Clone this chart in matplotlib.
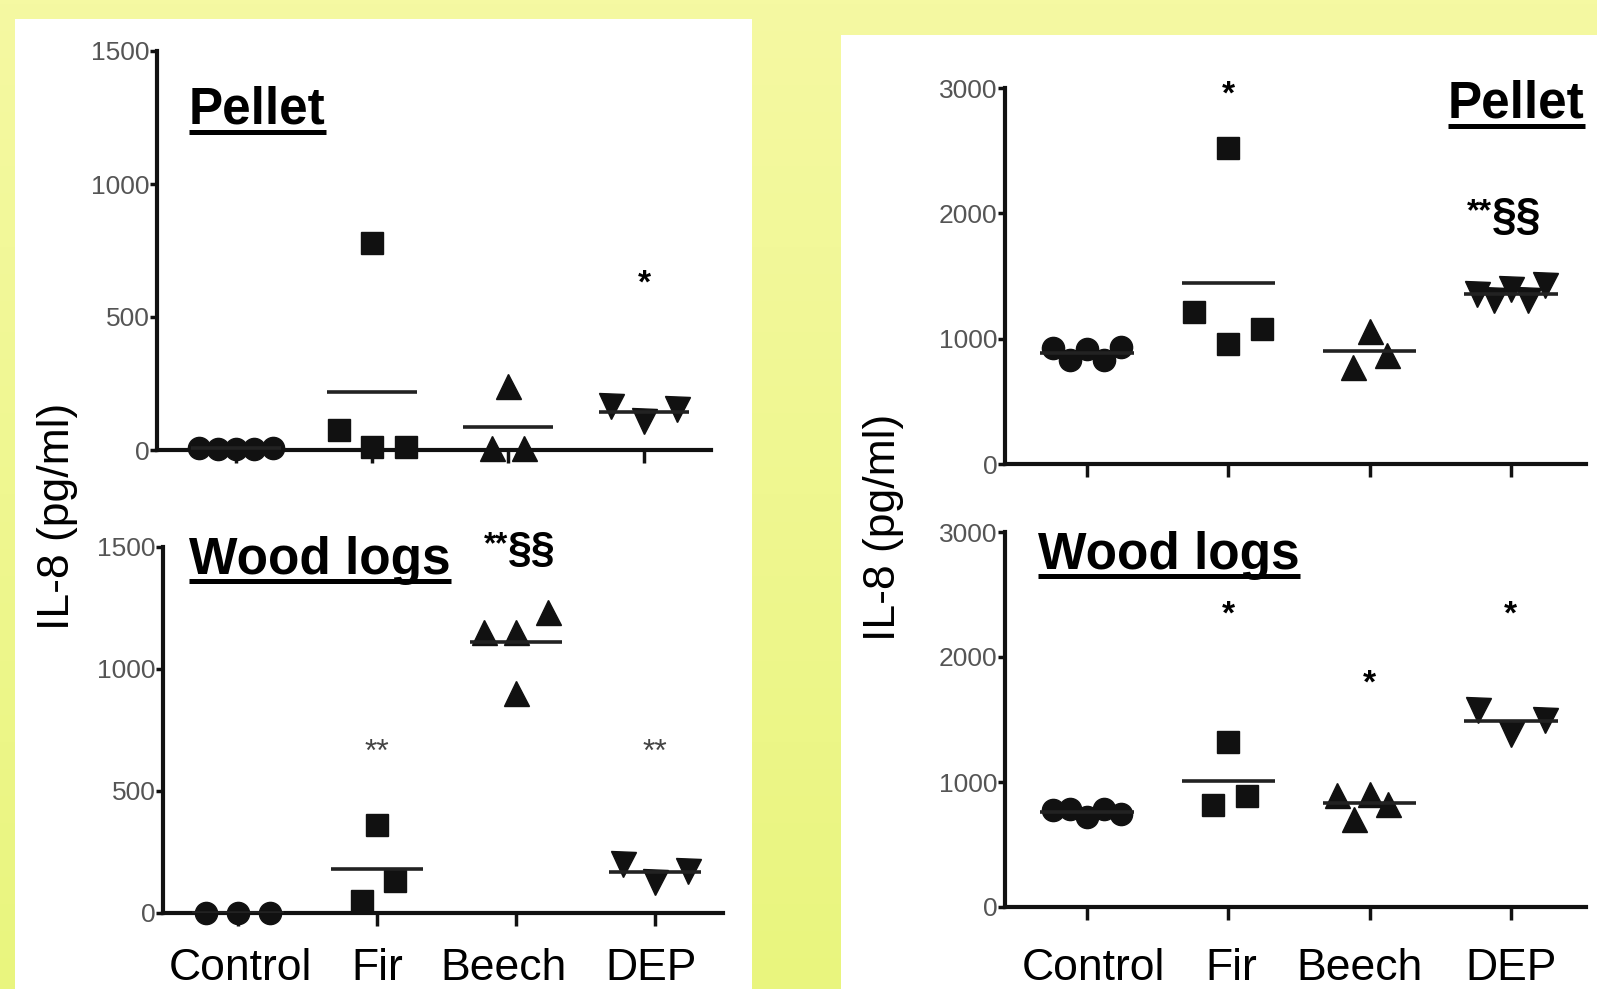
import numpy as np
import matplotlib
matplotlib.use("Agg")
import matplotlib.pyplot as plt
from matplotlib.patches import Rectangle
from matplotlib.lines import Line2D
from matplotlib.colors import LinearSegmentedColormap

plt.rcParams['font.family'] = ['Liberation Sans', 'DejaVu Sans']

categories = ["Control", "Fir", "Beech", "DEP"]
markers = ["o", "s", "^", "v"]

# IL-8 (pg/ml), left column (scale 0-1500)
left_pellet = [
    [8, 5, 3, 5, 8],
    [75, 780, 12, 12],
    [8, 240, 8],
    [165, 108, 155],
]
left_wood = [
    [0, 0, 0],
    [48, 361, 130],
    [1152, 1152, 1234, 900],
    [200, 128, 172],
]
# right column (scale 0-3000)
right_pellet = [
    [925, 830, 920, 830, 935],
    [1213, 2520, 960, 1080],
    [773, 1064, 867],
    [1360, 1307, 1400, 1307, 1427],
]
right_wood = [
    [773, 787, 720, 787, 747],
    [813, 1320, 890],
    [893, 707, 907, 827],
    [1573, 1387, 1493],
]

# horizontal jitter of the points inside each group
left_pellet_dx = [[-0.27, -0.135, 0, 0.135, 0.27], [-0.24, 0, 0, 0.25], [-0.12, 0, 0.12], [-0.24, 0, 0.24]]
left_wood_dx = [[-0.23, 0, 0.23], [-0.11, 0, 0.13], [-0.23, 0, 0.23, 0], [-0.23, 0, 0.24]]
right_pellet_dx = [[-0.24, -0.12, 0, 0.12, 0.24], [-0.24, 0, 0, 0.24], [-0.12, 0, 0.12], [-0.24, -0.12, 0, 0.12, 0.24]]
right_wood_dx = [[-0.24, -0.12, 0, 0.12, 0.24], [-0.11, 0, 0.13], [-0.23, -0.11, 0, 0.13], [-0.23, 0, 0.24]]

W, H = 1597, 989
fig = plt.figure(figsize=(W / 100, H / 100), dpi=100)

# yellow gradient background
bg = fig.add_axes([0, 0, 1, 1], zorder=-10)
grad = np.linspace(0, 1, 256).reshape(-1, 1)
cm = LinearSegmentedColormap.from_list("bg", ["#f5f9a2", "#e9f57e"])
bg.imshow(grad, aspect="auto", cmap=cm, extent=[0, 1, 0, 1], origin="upper")
bg.set_axis_off()

# white panels
fig.add_artist(Rectangle((15 / W, 0), (752 - 15) / W, 1 - 19 / H, transform=fig.transFigure,
                         facecolor="white", edgecolor="none", zorder=-5))
fig.add_artist(Rectangle((841 / W, 0), (W - 841) / W, 1 - 35 / H, transform=fig.transFigure,
                         facecolor="white", edgecolor="none", zorder=-5))


def draw_panel(spine, right, tick0, step, ytop, ybot, groups, offsets, ymax, yticks):
    ax = fig.add_axes([spine / W, 1 - ybot / H, (right - spine) / W, (ybot - ytop) / H])
    ax.set_facecolor("none")
    for i, (vals, dx) in enumerate(zip(groups, offsets)):
        xs = [i + d for d in dx]
        ax.plot(xs, vals, ls="none", marker=markers[i], ms=16 if markers[i] in "os" else 18,
                color="#111111", clip_on=False, zorder=4)
        ax.hlines(np.mean(vals), i - 0.33, i + 0.33, color="#222222", lw=2.6, zorder=5)
    ax.set_xlim(-(tick0 - spine) / step, 3 + (right - tick0 - 3 * step) / step)
    ax.set_ylim(0, ymax)
    ax.set_xticks(range(4))
    ax.set_xticklabels([])
    ax.set_yticks(yticks)
    ax.set_yticklabels([str(t) for t in yticks], fontsize=19, color="#555555")
    for s in ["top", "right"]:
        ax.spines[s].set_visible(False)
    for s in ["left", "bottom"]:
        ax.spines[s].set_linewidth(3)
        ax.spines[s].set_color("#111111")
    ax.tick_params(axis="y", length=5, width=2.5, pad=0.5, color="#111111")
    ax.tick_params(axis="x", length=9, width=2.5, color="#111111")
    return ax


ax_tl = draw_panel(157, 711, 236, 136, 51, 450, left_pellet, left_pellet_dx, 1500, [0, 500, 1000, 1500])
ax_bl = draw_panel(163, 723, 238, 139, 547, 913, left_wood, left_wood_dx, 1500, [0, 500, 1000, 1500])
ax_tr = draw_panel(1005, 1586, 1087, 141.3, 88, 464, right_pellet, right_pellet_dx, 3000, [0, 1000, 2000, 3000])
ax_br = draw_panel(1005, 1586, 1087, 141.3, 532, 907, right_wood, right_wood_dx, 3000, [0, 1000, 2000, 3000])

# significance marks
ax_tl.text(3, 625, "*", ha="center", va="center", fontsize=24, fontweight="bold")
ax_bl.text(1, 655, "**", ha="center", va="center", fontsize=23, color="#444444")
ax_bl.text(3, 655, "**", ha="center", va="center", fontsize=23, color="#444444")
ax_tr.text(1, 2947, "*", ha="center", va="center", fontsize=24, fontweight="bold")
ax_br.text(1, 2333, "*", ha="center", va="center", fontsize=24, fontweight="bold")
ax_br.text(2, 1787, "*", ha="center", va="center", fontsize=24, fontweight="bold")
ax_br.text(3, 2333, "*", ha="center", va="center", fontsize=24, fontweight="bold")


def stars_sections(ax, x, y, size, split):
    ax.annotate("§§", (x, y), xytext=(split, 0), textcoords="offset points",
                ha="left", va="center", fontsize=size, fontweight="bold")
    ax.annotate("**", (x, y), xytext=(split, size * 0.45), textcoords="offset points",
                ha="right", va="top", fontsize=size * 0.72, fontweight="bold")


stars_sections(ax_bl, 2, 1488, 31, -6)
stars_sections(ax_tr, 3, 1968, 32, -14)

# underlined panel titles
fig.canvas.draw()
renderer = fig.canvas.get_renderer()


def title(x, baseline, s, gap):
    t = fig.text(x / W, 1 - baseline / H, s, fontsize=37, fontweight="bold", va="baseline")
    bb = t.get_window_extent(renderer)
    yl = 1 - (baseline + gap) / H
    fig.add_artist(Line2D([bb.x0 / W, bb.x1 / W], [yl, yl], transform=fig.transFigure,
                          color="black", lw=3.6, solid_capstyle="butt"))


title(189, 124, "Pellet", 8)
title(189, 574, "Wood logs", 7)
title(1448, 118, "Pellet", 8)
title(1038, 569, "Wood logs", 7)

# y labels
fig.text(57 / W, 1 - 516 / H, "IL-8 (pg/ml)", rotation=90, ha="center", va="center", fontsize=32)
fig.text(883 / W, 1 - 527 / H, "IL-8 (pg/ml)", rotation=90, ha="center", va="center", fontsize=32)

# category labels along the bottom edge
for xs in [[240, 377, 503, 651], [1093, 1231, 1360, 1511]]:
    for lab, xp in zip(categories, xs):
        fig.text(xp / W, 1 - 980 / H, lab, ha="center", va="baseline", fontsize=32)

fig.savefig("out.png", dpi=100)
